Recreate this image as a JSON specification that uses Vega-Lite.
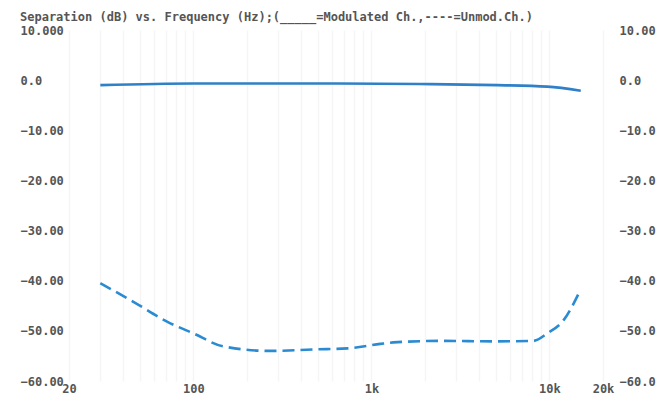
{
  "$schema": "https://vega.github.io/schema/vega-lite/v6.json",
  "width": 534,
  "height": 351,
  "autosize": {"type": "none"},
  "padding": {"left": 69, "top": 30, "right": 60, "bottom": 13},
  "background": "#ffffff",
  "config": {
    "view": {"stroke": null},
    "font": "DejaVu Sans Mono"
  },
  "title": {
    "text": "Separation (dB) vs. Frequency (Hz);(_____=Modulated Ch.,----=Unmod.Ch.)",
    "anchor": "start",
    "frame": "group",
    "dx": -49,
    "dy": 9,
    "offset": 9,
    "font": "DejaVu Sans Mono",
    "fontSize": 12,
    "fontWeight": "bold",
    "color": "#555555"
  },
  "datasets": {
    "mod": [
      {"f": 30, "db": -1.0},
      {"f": 100, "db": -0.66},
      {"f": 644, "db": -0.66},
      {"f": 2145, "db": -0.8},
      {"f": 5100, "db": -1.0},
      {"f": 9740, "db": -1.3},
      {"f": 15000, "db": -2.1}
    ],
    "unmod": [
      {"f": 30, "db": -40.5},
      {"f": 46, "db": -44.2},
      {"f": 71.5, "db": -48.2},
      {"f": 100, "db": -50.5},
      {"f": 147, "db": -53.1},
      {"f": 271, "db": -54.0},
      {"f": 472, "db": -53.7},
      {"f": 733, "db": -53.5},
      {"f": 1123, "db": -52.6},
      {"f": 1330, "db": -52.3},
      {"f": 2535, "db": -52.0},
      {"f": 4840, "db": -52.1},
      {"f": 8125, "db": -52.0},
      {"f": 9740, "db": -50.5},
      {"f": 11990, "db": -47.9},
      {"f": 15000, "db": -41.7}
    ]
  },
  "layer": [
    {
      "data": {"name": "mod"},
      "mark": {"type": "line", "color": "#2f80c8", "strokeWidth": 2.6, "interpolate": "monotone"},
      "encoding": {
        "x": {
          "field": "f", "type": "quantitative",
          "scale": {"type": "log", "domain": [20, 20000], "nice": false},
          "axis": {
            "title": null, "domain": false, "ticks": false, "tickSize": 0,
            "values": [20, 30, 40, 50, 60, 70, 80, 90, 100, 200, 300, 400, 500, 600, 700, 800, 900, 1000, 2000, 3000, 4000, 5000, 6000, 7000, 8000, 9000, 10000, 20000],
            "labelExpr": "datum.value == 20 ? '20' : datum.value == 100 ? '100' : datum.value == 1000 ? '1k' : datum.value == 10000 ? '10k' : datum.value == 20000 ? '20k' : ''",
            "labelBaseline": "top", "labelPadding": 2,
            "labelFont": "DejaVu Sans Mono", "labelFontSize": 12, "labelFontWeight": "bold", "labelColor": "#555555",
            "labelOverlap": false, "labelFlush": false,
            "grid": true, "gridColor": "#f5f5f5", "gridWidth": 1.5
          }
        },
        "y": {
          "field": "db", "type": "quantitative",
          "scale": {"domain": [-60, 10], "nice": false, "zero": false},
          "axis": {
            "orient": "left", "title": null, "domain": false, "ticks": false, "tickSize": 0,
            "values": [10, 0, -10, -20, -30, -40, -50, -60],
            "labelExpr": "datum.value == 10 ? '10.000' : datum.value == 0 ? '0.0' : format(datum.value, '.2f')",
            "labelAlign": "left", "labelPadding": 49, "labelBaseline": "middle",
            "labelFont": "DejaVu Sans Mono", "labelFontSize": 12, "labelFontWeight": "bold", "labelColor": "#555555",
            "labelOverlap": false, "labelFlush": false,
            "grid": false
          }
        }
      }
    },
    {
      "data": {"name": "unmod"},
      "mark": {"type": "line", "color": "#2a8bd2", "strokeWidth": 2.6, "strokeDash": [12, 6], "interpolate": "monotone"},
      "encoding": {
        "x": {"field": "f", "type": "quantitative"},
        "y": {
          "field": "db", "type": "quantitative",
          "scale": {"domain": [-60, 10], "nice": false, "zero": false},
          "axis": {
            "orient": "right", "title": null, "domain": false, "ticks": false, "tickSize": 0,
            "values": [10, 0, -10, -20, -30, -40, -50, -60],
            "labelExpr": "datum.value == 10 ? '10.00' : datum.value == 0 ? '0.0' : format(datum.value, '.1f')",
            "labelAlign": "left", "labelPadding": 16, "labelBaseline": "middle",
            "labelFont": "DejaVu Sans Mono", "labelFontSize": 12, "labelFontWeight": "bold", "labelColor": "#555555",
            "labelOverlap": false, "labelFlush": false,
            "grid": false
          }
        }
      }
    }
  ],
  "resolve": {"scale": {"y": "independent"}, "axis": {"y": "independent"}}
}
